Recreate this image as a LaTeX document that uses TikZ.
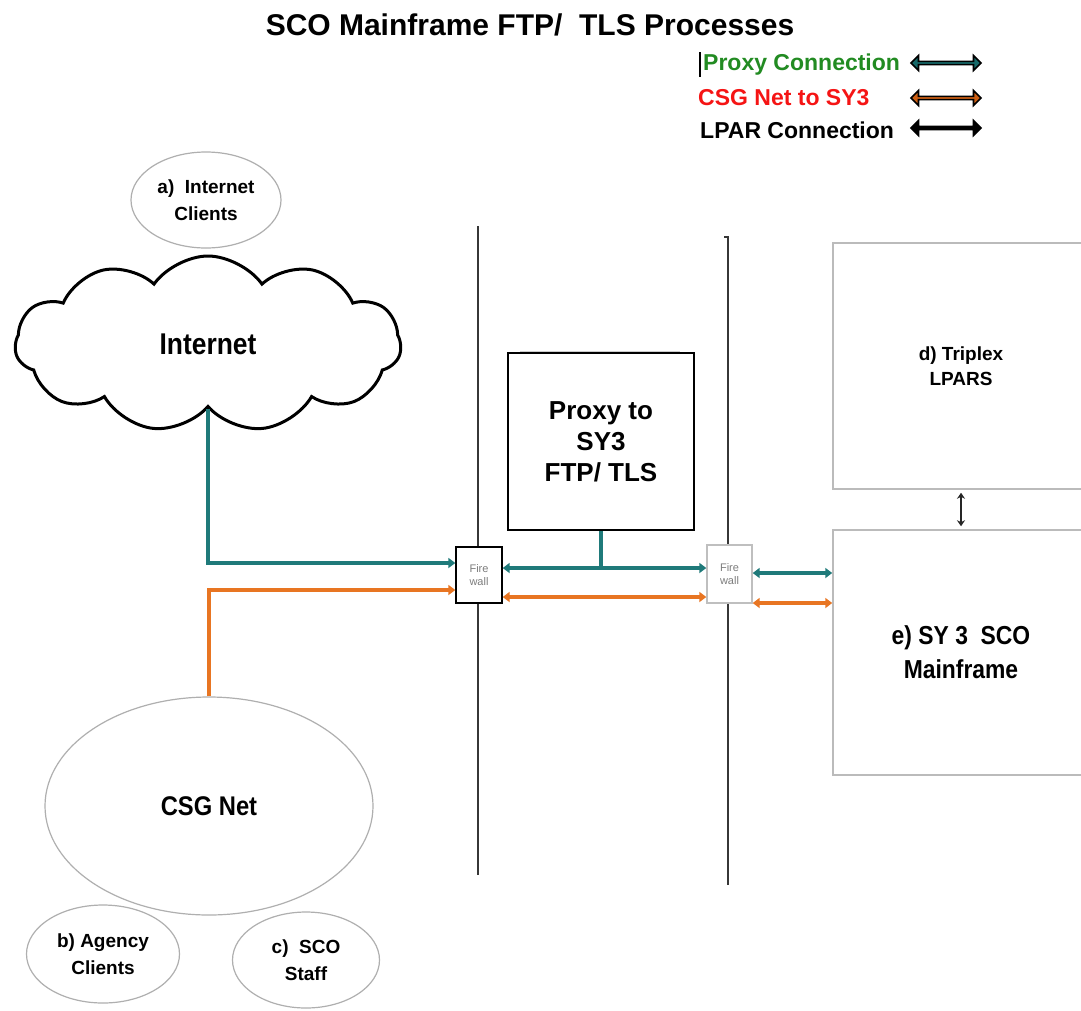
\documentclass[tikz,border=0pt]{standalone}
\usepackage{fontspec}
\setmainfont{Liberation Sans}
\newfontfamily\condfont[FakeStretch=0.88]{Liberation Sans}
\usepackage{tikz}
\usetikzlibrary{shapes.geometric, shapes.symbols, shapes.arrows, arrows.meta,
                positioning, calc}
\definecolor{proxyteal}{RGB}{31,122,122}
\definecolor{proxydark}{RGB}{22,105,105}
\definecolor{csgorange}{RGB}{232,117,34}
\definecolor{csgdark}{RGB}{205,95,20}
\definecolor{legendgreen}{RGB}{34,139,34}
\definecolor{legendred}{RGB}{245,20,20}
\definecolor{wallgray}{RGB}{55,55,55}
\definecolor{edgegray}{RGB}{175,175,175}
\definecolor{fwtext}{RGB}{125,125,125}
\tikzset{
  client/.style={ellipse, draw=edgegray, fill=white, line width=1.2pt,
    inner sep=0pt, align=center, font=\bfseries\fontsize{19}{27}\selectfont},
  lparbox/.style={rectangle, draw=edgegray!85, fill=white, line width=1.5pt,
    inner sep=0pt, align=center},
  fwbox/.style={rectangle, draw, fill=white, line width=1.4pt,
    minimum width=46pt, minimum height=56pt, inner sep=0pt, align=center,
    text=fwtext, font=\fontsize{11}{13}\selectfont},
  legtext/.style={anchor=west, inner sep=0pt, font=\bfseries\fontsize{23}{26}\selectfont},
  legarrow/.style={double arrow, draw=black, line width=1.6pt, inner sep=0pt,
    minimum height=70pt, minimum width=15pt, double arrow head extend=3pt},
  wall/.style={line width=1.8pt, color=wallgray},
  proxyline/.style={line width=3.5pt, color=proxyteal},
  csgline/.style={line width=3.5pt, color=csgorange},
  lparline/.style={{Stealth[length=6pt,width=8pt]}-{Stealth[length=6pt,width=8pt]},
    line width=2pt, color=black!85},
  fwtip/.tip={Triangle[length=7pt,width=10pt]},
}

\begin{document}
\begin{tikzpicture}[x=1pt, y=-1pt]
  \useasboundingbox (0,0) rectangle (1081,1010);

  \node[font=\bfseries\fontsize{30}{34}\selectfont] (title) at (530,25)
    {SCO Mainframe FTP/\ \ TLS Processes};

  \draw[line width=1.3pt] (700,52) -- (700,77);
  \node[legtext, text=legendgreen] (legproxytext) at (703,65) {Proxy Connection};
  \node[legtext, text=legendred] (legcsgtext) at (698,98) {CSG Net to SY3};
  \node[legtext, text=black] (leglpartext) at (700,130) {LPAR Connection};
  \node[legarrow, fill=proxydark] (legproxy) at (946,63) {};
  \node[legarrow, fill=csgdark] (legcsg) at (946,98) {};
  \node[legarrow, fill=black] (leglpar) at (946,128) {};

  \draw[wall] (478,226) -- (478,875);
  \draw[wall] (724,237) -- (728,237) -- (728,885);

  \node[client, minimum width=150pt, minimum height=96pt] (inetclients)
    at (206,200) {a)\ \ Internet\\Clients};
  \node[cloud, cloud puffs=11, cloud puff arc=110, cloud ignores aspect,
        draw, fill=white, line width=3pt, minimum width=386pt,
        minimum height=176pt,
        font=\condfont\bfseries\fontsize{30}{34}\selectfont]
    (internet) at (208,344) {Internet};

  \draw[line width=1pt, gray!40] (520,351) -- (680,351);
  \node[rectangle, draw, line width=1.6pt, minimum width=186pt,
        minimum height=177pt, align=center,
        font=\bfseries\fontsize{26}{31}\selectfont]
    (proxy) at (601,441.5) {Proxy to\\SY3\\FTP/ TLS};

  \node[fwbox] (fw1) at (479,575) {Fire\\wall};
  \node[fwbox, draw=edgegray!80, minimum width=45pt, minimum height=58pt]
    (fw2) at (729.5,574) {Fire\\wall};

  \node[lparbox, minimum width=256pt, minimum height=246pt,
        font=\bfseries\fontsize{19}{25}\selectfont]
    (lpars) at (961,366) {d) Triplex\\LPARS};
  \node[lparbox, minimum width=256pt, minimum height=245pt,
        font=\condfont\bfseries\fontsize{26}{34}\selectfont]
    (mainframe) at (961,652.5) {e) SY 3\ \ SCO\\Mainframe};

  \node[client, minimum width=328pt, minimum height=218pt,
        font=\condfont\bfseries\fontsize{27}{30}\selectfont]
    (csgnet) at (209,806) {\raisebox{-7pt}{CSG Net}};
  \node[client, minimum width=153pt, minimum height=98pt] (agency)
    at (103,954) {b) Agency\\Clients};
  \node[client, minimum width=147pt, minimum height=96pt] (staff)
    at (306,960) {c)\ \ SCO\\Staff};

  \coordinate (tealin) at (0,563);
  \coordinate (tealmid) at (0,568);
  \coordinate (tealout) at (0,573);
  \coordinate (orangein) at (0,590);
  \coordinate (orangemid) at (0,597);
  \coordinate (orangeout) at (0,603);

  \draw[proxyline, -{fwtip}] (internet.south) |- (fw1.west |- tealin);
  \draw[proxyline, {fwtip}-{fwtip}] (fw1.east |- tealmid) -- (fw2.west |- tealmid);
  \draw[proxyline] (proxy.south) -- (proxy.south |- tealmid);
  \draw[proxyline, {fwtip}-{fwtip}] (fw2.east |- tealout) -- (mainframe.west |- tealout);

  \draw[csgline, -{fwtip}] (csgnet.north) |- (fw1.west |- orangein);
  \draw[csgline, {fwtip}-{fwtip}] (fw1.east |- orangemid) -- (fw2.west |- orangemid);
  \draw[csgline, {fwtip}-{fwtip}] (fw2.east |- orangeout) -- (mainframe.west |- orangeout);

  \draw[lparline, shorten <=3pt, shorten >=3pt] (lpars.south) -- (mainframe.north);
\end{tikzpicture}
\end{document}
